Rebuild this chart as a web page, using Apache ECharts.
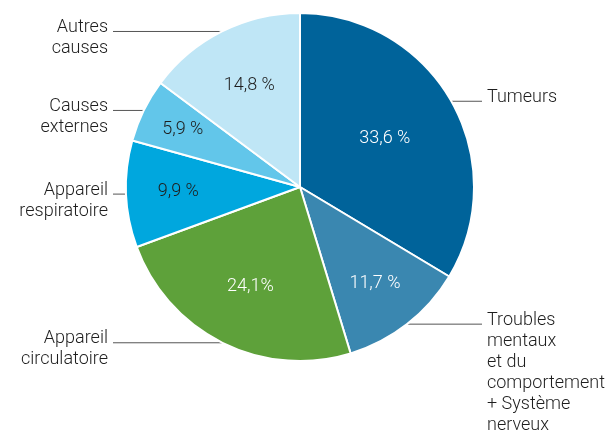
<!DOCTYPE html>
<html>
<head>
<meta charset="utf-8">
<script src="https://cdn.jsdelivr.net/npm/echarts@6/dist/echarts.min.js"></script>
<style>
  html, body { margin: 0; padding: 0; background: #fff; }
  #chart { width: 613px; height: 434px; }
</style>
</head>
<body>
<div id="chart"></div>
<script>
// Causes of death, share of total (%)
const causes = [
  'Tumeurs',
  'Troubles\nmentaux\net du\ncomportement\n+ Système\nnerveux',
  'Appareil\ncirculatoire',
  'Appareil\nrespiratoire',
  'Causes\nexternes',
  'Autres\ncauses'
];
const shares = [33.6, 11.7, 24.1, 9.9, 5.9, 14.8];

// Slice styling
const sliceColors = ['#00639a', '#3a87b0', '#5ea13a', '#00a7de', '#62c6ea', '#bfe6f6'];
const valueTextColors = ['#ffffff', '#ffffff', '#ffffff', '#1e1e1e', '#1e1e1e', '#1e1e1e'];
const percentSep = [' ', ' ', '', ' ', ' ', ' '];
// Radial position of each value label, as a fraction of the radius
const valueLabelRadius = [0.56, 0.70, 0.64, 0.70, 0.75, 0.65];

const CX = 300, CY = 187, R = 174;
const FONT = 'Roboto, "Liberation Sans", sans-serif';

// Mid-angle of each slice, clockwise from 12 o'clock
const total = shares.reduce((a, b) => a + b, 0);
const midAngles = [];
let acc = 0;
shares.forEach(v => {
  midAngles.push((acc + v / 2) / total * Math.PI * 2);
  acc += v;
});

const pieData = shares.map((v, i) => ({
  name: causes[i],
  value: v,
  itemStyle: { color: sliceColors[i] },
  label: { color: valueTextColors[i] }
}));

const nameData = shares.map((v, i) => ({ name: causes[i], value: v }));

const chart = echarts.init(document.getElementById('chart'), null, { renderer: 'canvas' });
chart.setOption({
  backgroundColor: '#ffffff',
  animation: false,
  series: [
    {
      type: 'pie',
      center: [CX, CY],
      radius: R,
      startAngle: 90,
      clockwise: true,
      avoidLabelOverlap: false,
      silent: true,
      emphasis: { disabled: true },
      itemStyle: { borderColor: '#ffffff', borderWidth: 2 },
      label: {
        show: true,
        position: 'inside',
        fontFamily: FONT,
        fontWeight: 300,
        fontSize: 18,
        formatter: p => p.value.toFixed(1).replace('.', ',') + percentSep[p.dataIndex] + '%'
      },
      labelLine: { show: false },
      labelLayout: p => {
        const a = midAngles[p.dataIndex];
        const f = valueLabelRadius[p.dataIndex];
        return {
          x: CX + f * R * Math.sin(a),
          y: CY - f * R * Math.cos(a),
          align: 'center',
          verticalAlign: 'middle'
        };
      },
      data: pieData
    },
    {
      type: 'pie',
      center: [CX, CY],
      radius: R,
      startAngle: 90,
      clockwise: true,
      avoidLabelOverlap: false,
      silent: true,
      emphasis: { disabled: true },
      itemStyle: { color: 'rgba(0,0,0,0)', borderWidth: 0 },
      label: {
        show: true,
        position: 'outside',
        fontFamily: FONT,
        fontWeight: 300,
        fontSize: 18,
        lineHeight: 21,
        color: '#1e1e1e',
        formatter: p => p.name
      },
      labelLine: {
        show: true,
        length: 0,
        length2: 10,
        lineStyle: { color: '#555555', width: 1 }
      },
      labelLayout: p => {
        const a = midAngles[p.dataIndex];
        const ex = CX + R * Math.sin(a);
        const ey = CY - R * Math.cos(a);
        const right = Math.sin(a) > 0;
        const lineEnd = right ? 482 : 113;
        return {
          x: right ? 487 : 108,
          y: ey - 14.5,
          align: right ? 'left' : 'right',
          verticalAlign: 'top',
          labelLinePoints: [[ex, ey], [lineEnd, ey], [lineEnd, ey]]
        };
      },
      data: nameData
    }
  ]
});
</script>
</body>
</html>
